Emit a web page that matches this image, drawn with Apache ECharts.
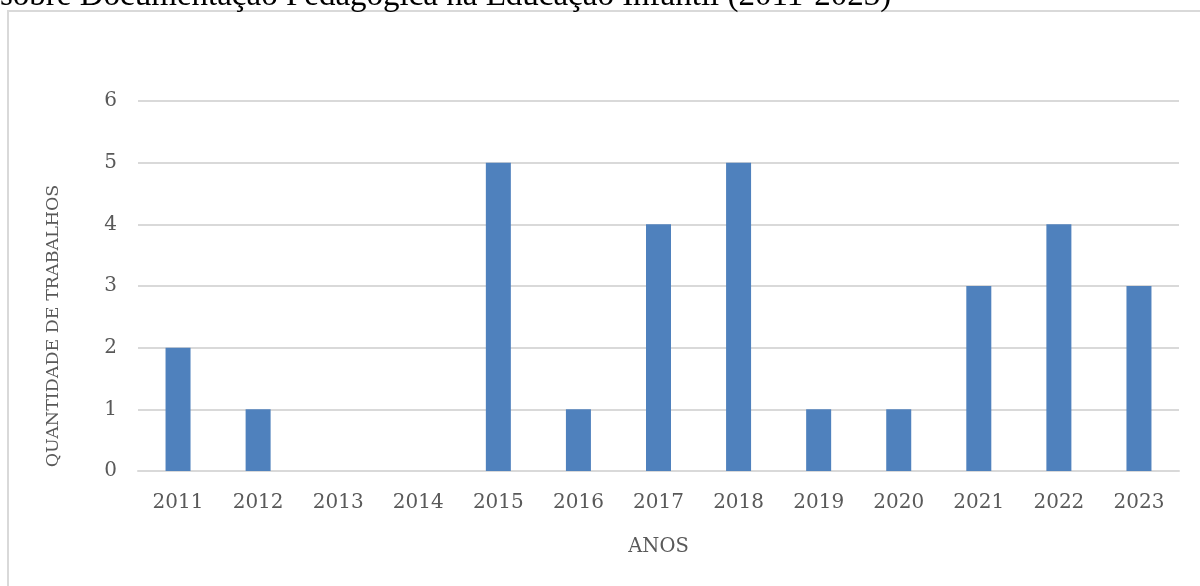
<!DOCTYPE html>
<html>
<head>
<meta charset="utf-8">
<script src="https://cdn.jsdelivr.net/npm/echarts@6/dist/echarts.min.js"></script>
<style>
  html, body { margin: 0; padding: 0; background: #fff; }
  #chart { width: 1200px; height: 586px; }
</style>
</head>
<body>
<div id="chart"></div>
<script>
const anos = ['2011', '2012', '2013', '2014', '2015', '2016', '2017', '2018', '2019', '2020', '2021', '2022', '2023'];
const trabalhos = [2, 1, 0, 0, 5, 1, 4, 5, 1, 1, 3, 4, 3];

const labelFont = 'DejaVu Serif';
const grey = '#595959';

const myChart = echarts.init(document.getElementById('chart'));

const option = {
  animation: false,
  graphic: [
    {
      type: 'rect',
      shape: {x: 8, y: 11, width: 1300, height: 700},
      style: {fill: 'none', stroke: '#d9d9d9', lineWidth: 2},
      silent: true
    },
    {
      type: 'text',
      x: 0,
      y: -4,
      style: {
        text: 'sobre Documentação Pedagógica na Educação Infantil (2011-2023)',
        font: '33px "Liberation Serif"',
        fill: '#000',
        verticalAlign: 'middle'
      }
    },
    {
      type: 'text',
      x: 53,
      y: 326,
      rotation: Math.PI / 2,
      style: {
        text: 'QUANTIDADE DE TRABALHOS',
        font: '17.5px "DejaVu Serif"',
        fill: grey,
        align: 'center',
        verticalAlign: 'middle'
      }
    }
  ],
  grid: {
    left: 138,
    right: 21,
    top: 101,
    bottom: 115,
    containLabel: false
  },
  xAxis: {
    type: 'category',
    data: anos,
    name: 'ANOS',
    nameLocation: 'middle',
    nameGap: 66,
    nameTextStyle: {fontFamily: labelFont, fontSize: 19.5, color: grey},
    axisLine: {show: true, lineStyle: {color: '#d9d9d9', width: 2}},
    axisTick: {show: false},
    axisLabel: {fontFamily: labelFont, fontSize: 20, color: grey, margin: 22}
  },
  yAxis: {
    type: 'value',
    min: 0,
    max: 6,
    interval: 1,
    axisLine: {show: false},
    axisTick: {show: false},
    axisLabel: {fontFamily: labelFont, fontSize: 20, color: grey, margin: 21},
    splitLine: {lineStyle: {color: '#d9d9d9', width: 2}}
  },
  series: [
    {
      type: 'bar',
      data: trabalhos,
      barWidth: 25,
      itemStyle: {color: '#4f81bd'}
    }
  ]
};

myChart.setOption(option);
</script>
</body>
</html>
